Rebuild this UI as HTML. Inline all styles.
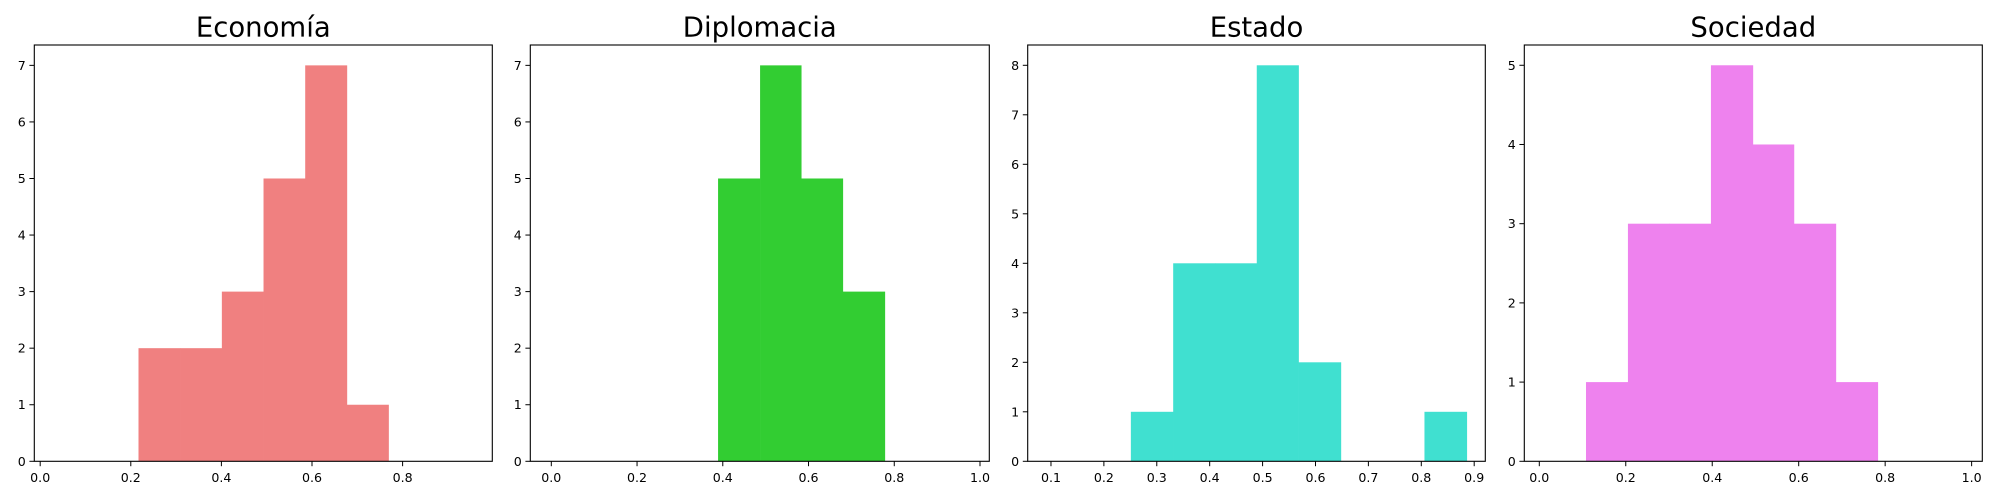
<!DOCTYPE html>
<html><head><meta charset="utf-8"><style>
html,body{margin:0;padding:0;background:#fff;}
svg{display:block;font-family:"DejaVu Sans","Liberation Sans",sans-serif;}
</style></head><body>
<svg id="fig" width="2000" height="500" viewBox="0 0 2000 500"></svg>
<script>
const titles = ["Economía","Diplomacia","Estado","Sociedad"];
const colors = ["#F08080","#32CD32","#40E0D0","#EE82EE"];
const edges1 = [0.217,0.309,0.401,0.493,0.585,0.677,0.769];
const counts1 = [2,2,3,5,7,1];
const edges2 = [0.389,0.487,0.583,0.680,0.778];
const counts2 = [5,7,5,3];
const edges3 = [0.251,0.331,0.410,0.489,0.568,0.648,0.727,0.806,0.886];
const counts3 = [1,4,4,8,2,0,0,1];
const edges4 = [0.108,0.205,0.301,0.397,0.494,0.589,0.686,0.783];
const counts4 = [1,3,3,5,4,3,1];
const xTicks1 = ["0.0","0.2","0.4","0.6","0.8"];
const xTicks2 = ["0.0","0.2","0.4","0.6","0.8","1.0"];
const xTicks3 = ["0.1","0.2","0.3","0.4","0.5","0.6","0.7","0.8","0.9"];
const xTicks4 = ["0.0","0.2","0.4","0.6","0.8","1.0"];
const panels = [
 {left:34.3,right:492.3,xmin:-0.013,xmax:0.998,ymax:7.36,edges:edges1,counts:counts1,xt:xTicks1},
 {left:530.3,right:989.3,xmin:-0.049,xmax:1.0217,ymax:7.36,edges:edges2,counts:counts2,xt:xTicks2},
 {left:1027.7,right:1485.3,xmin:0.056,xmax:0.921,ymax:8.41,edges:edges3,counts:counts3,xt:xTicks3},
 {left:1524.3,right:1982.3,xmin:-0.0347,xmax:1.0247,ymax:5.256,edges:edges4,counts:counts4,xt:xTicks4}
];
const plotTop=45, plotBottom=461.3;
const NS="http://www.w3.org/2000/svg";
const svgEl=document.getElementById('fig');
function mk(tag,attrs,parent){const e=document.createElementNS(NS,tag);for(const k in attrs)e.setAttribute(k,attrs[k]);(parent||svgEl).appendChild(e);return e;}
panels.forEach((p,i)=>{
  const g=mk('g',{});
  
  
  const xs=v=>p.left+(v-p.xmin)/(p.xmax-p.xmin)*(p.right-p.left);
  const ys=v=>plotBottom-v/p.ymax*(plotBottom-plotTop);
  p.counts.forEach((c,j)=>{
    if(c<=0)return;
    const x0=xs(p.edges[j]),x1=xs(p.edges[j+1]);
    const r=mk('rect',{x:x0,y:ys(c),width:x1-x0+0.3,height:plotBottom-ys(c),fill:colors[i]},g);
    
    
  });
  const fr=mk('rect',{x:p.left,y:plotTop,width:p.right-p.left,height:plotBottom-plotTop,fill:'none',stroke:'#000','stroke-width':1.1},g);
  
  
  const yMaxTick=Math.floor(p.ymax);
  for(let v=0;v<=yMaxTick;v++){
    const y=ys(v);
    mk('line',{x1:p.left-4.9,x2:p.left,y1:y,y2:y,stroke:'#000','stroke-width':1},g);
    const t=mk('text',{x:p.left-8.5,y:y+4.5,'font-size':12.6,'text-anchor':'end',fill:'#000'},g);
    t.textContent=String(v);
    
    
  }
  p.xt.forEach(s=>{
    const x=xs(parseFloat(s));
    mk('line',{x1:x,x2:x,y1:plotBottom,y2:plotBottom+4.9,stroke:'#000','stroke-width':1},g);
    const t=mk('text',{x:x,y:482,'font-size':12.6,'text-anchor':'middle',fill:'#000'},g);
    t.textContent=s;
    
    
  });
  const tt=mk('text',{x:(p.left+p.right)/2,y:36.5,'font-size':27.5,'text-anchor':'middle',fill:'#000'},g);
  tt.textContent=titles[i];
  
  
});
</script>
</body></html>
